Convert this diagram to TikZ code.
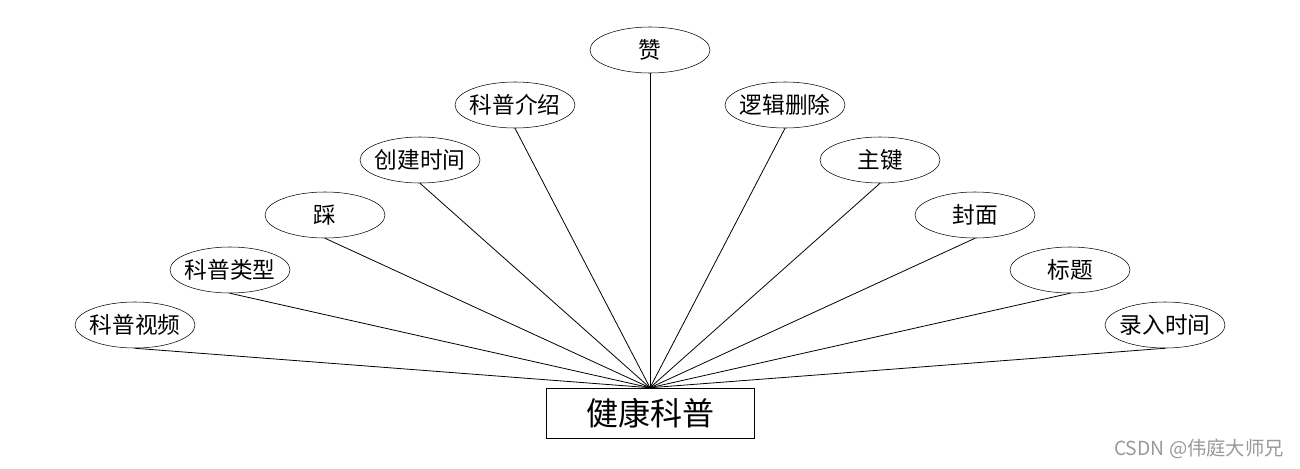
\documentclass[tikz,border=0pt]{standalone}
\usepackage{fontspec}
\newfontfamily\cjk{Noto Sans CJK SC}
\usepackage{tikz}
\usetikzlibrary{shapes.geometric}

\begin{document}
\begin{tikzpicture}[x=0.75pt, y=-0.75pt, attr/.style={draw, ellipse, minimum width=90pt, minimum height=34.5pt, inner xsep=-5pt, inner ysep=0pt, font=\cjk\fontsize{17}{17}\selectfont}, entity/.style={draw, rectangle, minimum width=156pt, minimum height=37.5pt, inner sep=0pt, font=\cjk\fontsize{24}{24}\selectfont}, conn/.style={line width=0.6pt}]
\useasboundingbox (0,0) rectangle (1300,468);
\node[entity] (kepu) at (650,413) {健康科普};
\node[attr] (zan) at (650,50) {赞};
\node[attr] (jieshao) at (515,105) {科普介绍};
\node[attr] (shanchu) at (785,105) {逻辑删除};
\node[attr] (chuangjian) at (420,160) {创建时间};
\node[attr] (zhujian) at (880,160) {主键};
\node[attr] (cai) at (325,215) {踩};
\node[attr] (fengmian) at (975,215) {封面};
\node[attr] (leixing) at (230,270) {科普类型};
\node[attr] (biaoti) at (1070,270) {标题};
\node[attr] (shipin) at (135,325) {科普视频};
\node[attr] (luru) at (1165,325) {录入时间};
\foreach \a in {zan,jieshao,shanchu,chuangjian,zhujian,cai,fengmian,leixing,biaoti,shipin,luru}
  \draw[conn] (\a.south) -- (kepu.north);
\node[text=black!40, font=\cjk\fontsize{14.5}{14.5}\selectfont] (mark) at (1199,449) {CSDN @伟庭大师兄};
\end{tikzpicture}
\end{document}
